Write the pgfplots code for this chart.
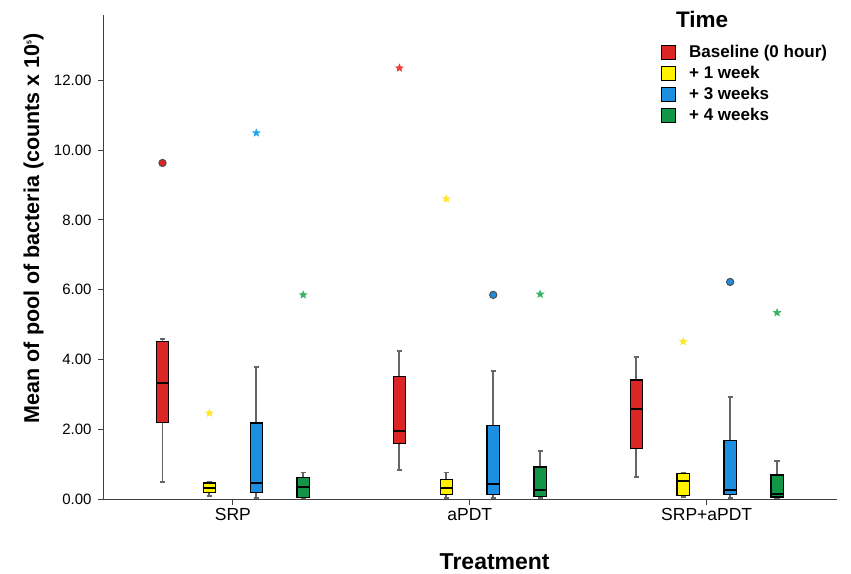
\documentclass[border=0pt]{standalone}
\usepackage{fontspec}
\setmainfont{Liberation Sans}
\usepackage{pgfplots}
\pgfplotsset{compat=1.18}
\usepgfplotslibrary{statistics}

\definecolor{cred}{RGB}{220,38,36}
\definecolor{cyel}{RGB}{255,242,0}
\definecolor{cblue}{RGB}{28,143,224}
\definecolor{cgreen}{RGB}{16,150,70}
\definecolor{sred}{RGB}{240,60,60}
\definecolor{syel}{RGB}{255,232,40}
\definecolor{sblue}{RGB}{40,165,235}
\definecolor{sgreen}{RGB}{60,180,100}

% filled five-pointed star
\pgfdeclareplotmark{fstar}{%
  \pgfpathmoveto{\pgfpointpolar{90}{\pgfplotmarksize}}%
  \pgfpathlineto{\pgfpointpolar{126}{0.45\pgfplotmarksize}}%
  \pgfpathlineto{\pgfpointpolar{162}{\pgfplotmarksize}}%
  \pgfpathlineto{\pgfpointpolar{198}{0.45\pgfplotmarksize}}%
  \pgfpathlineto{\pgfpointpolar{234}{\pgfplotmarksize}}%
  \pgfpathlineto{\pgfpointpolar{270}{0.45\pgfplotmarksize}}%
  \pgfpathlineto{\pgfpointpolar{306}{\pgfplotmarksize}}%
  \pgfpathlineto{\pgfpointpolar{342}{0.45\pgfplotmarksize}}%
  \pgfpathlineto{\pgfpointpolar{18}{\pgfplotmarksize}}%
  \pgfpathlineto{\pgfpointpolar{54}{0.45\pgfplotmarksize}}%
  \pgfpathclose\pgfusepathqfill}

\pgfplotsset{
  bx/.style={draw=black, line width=1.2pt, fill=#1,
    boxplot/draw direction=y,
    boxplot/box extend=0.052, boxplot/whisker extend=0.022,
    boxplot/every whisker/.append style={draw=black!60, line width=1.9pt},
    boxplot/every median/.append style={draw=black, line width=2pt}},
  circ/.style={only marks, mark=*, mark size=3.6pt,
    mark options={fill=#1, draw=black!70, line width=1pt}},
  st/.style={only marks, mark=fstar, mark size=4.6pt, color=#1},
}

\begin{document}
\begin{tikzpicture}
\begin{axis}[name=ax, scale only axis, width=733pt, height=484pt,
  xmin=0.456, xmax=3.55, ymin=0, ymax=13.87,
  axis x line=bottom, axis y line=left,
  axis line style={-, draw=black!75, line width=1pt},
  xtick={1,2,3}, xticklabels={SRP,aPDT,SRP+aPDT},
  ytick={0,2,4,6,8,10,12},
  yticklabel style={/pgf/number format/fixed, /pgf/number format/fixed zerofill,
    /pgf/number format/precision=2, /pgf/number format/assume math mode=true,
    font=\fontsize{15}{18}\selectfont, xshift=-3pt},
  tick align=outside, major tick length=6pt,
  tick style={draw=black!75, line width=1pt},
  x tick label style={font=\fontsize{17.5}{20}\selectfont},
  xlabel={Treatment}, ylabel={Mean of pool of bacteria (counts x 10\textsuperscript{\scriptsize 5})},
  xlabel style={font=\bfseries\fontsize{23}{26}\selectfont,
    at={(axis description cs:0.533,-0.13)}, anchor=center},
  ylabel style={font=\bfseries\fontsize{21.5}{25}\selectfont,
    at={(axis description cs:-0.096,0.56)}, anchor=center},
  clip=false,
  legend style={at={(axis description cs:0.756,0.947)}, anchor=north west,
    draw=none, fill=none, font=\bfseries\fontsize{17}{20}\selectfont,
    row sep=0.5pt, nodes={text height=12.5pt, text depth=4pt},
    /tikz/every odd column/.append style={column sep=11pt}},
  legend cell align=left,
  legend image code/.code={\draw[#1, draw=black, line width=0.8pt] (0pt,-6pt) rectangle (14pt,8pt);},
]
% SRP
\addplot[bx=cred, boxplot prepared={draw position=0.703, lower whisker=0.49, lower quartile=2.20, median=3.32, upper quartile=4.51, upper whisker=4.58}] coordinates {};
\addplot[bx=cyel, boxplot prepared={draw position=0.901, lower whisker=0.09, lower quartile=0.18, median=0.32, upper quartile=0.46, upper whisker=0.49}] coordinates {};
\addplot[bx=cblue, boxplot prepared={draw position=1.099, lower whisker=0.03, lower quartile=0.19, median=0.46, upper quartile=2.18, upper whisker=3.79}] coordinates {};
\addplot[bx=cgreen, boxplot prepared={draw position=1.297, lower whisker=0.03, lower quartile=0.05, median=0.33, upper quartile=0.62, upper whisker=0.76}] coordinates {};
% aPDT
\addplot[bx=cred, boxplot prepared={draw position=1.703, lower whisker=0.82, lower quartile=1.58, median=1.96, upper quartile=3.50, upper whisker=4.23}] coordinates {};
\addplot[bx=cyel, boxplot prepared={draw position=1.901, lower whisker=0.03, lower quartile=0.12, median=0.32, upper quartile=0.57, upper whisker=0.76}] coordinates {};
\addplot[bx=cblue, boxplot prepared={draw position=2.099, lower whisker=0.03, lower quartile=0.13, median=0.42, upper quartile=2.10, upper whisker=3.68}] coordinates {};
\addplot[bx=cgreen, boxplot prepared={draw position=2.297, lower whisker=0.03, lower quartile=0.07, median=0.25, upper quartile=0.92, upper whisker=1.38}] coordinates {};
% SRP+aPDT
\addplot[bx=cred, boxplot prepared={draw position=2.703, lower whisker=0.64, lower quartile=1.44, median=2.57, upper quartile=3.41, upper whisker=4.08}] coordinates {};
\addplot[bx=cyel, boxplot prepared={draw position=2.901, lower whisker=0.05, lower quartile=0.09, median=0.51, upper quartile=0.72, upper whisker=0.75}] coordinates {};
\addplot[bx=cblue, boxplot prepared={draw position=3.099, lower whisker=0.03, lower quartile=0.13, median=0.26, upper quartile=1.67, upper whisker=2.93}] coordinates {};
\addplot[bx=cgreen, boxplot prepared={draw position=3.297, lower whisker=0.03, lower quartile=0.06, median=0.13, upper quartile=0.69, upper whisker=1.08}] coordinates {};
% outliers
\addplot[circ=cred] coordinates {(0.703,9.63)};
\addplot[st=syel] coordinates {(0.901,2.46)(1.901,8.60)(2.901,4.51)};
\addplot[st=sblue] coordinates {(1.099,10.49)};
\addplot[st=sgreen] coordinates {(1.297,5.85)(2.297,5.87)(3.297,5.34)};
\addplot[st=sred] coordinates {(1.703,12.35)};
\addplot[circ=cblue] coordinates {(2.099,5.85)(3.099,6.22)};
% legend
\addlegendimage{fill=cred}\addlegendentry{Baseline (0 hour)}
\addlegendimage{fill=cyel}\addlegendentry{+ 1 week}
\addlegendimage{fill=cblue}\addlegendentry{+ 3 weeks}
\addlegendimage{fill=cgreen}\addlegendentry{+ 4 weeks}
\node[font=\bfseries\fontsize{22.5}{25}\selectfont] at (axis description cs:0.816,0.991) {Time};
\end{axis}
\path (ax.south west) ++(-104pt,-74pt) rectangle ++(851pt,573pt);
\end{tikzpicture}
\end{document}
